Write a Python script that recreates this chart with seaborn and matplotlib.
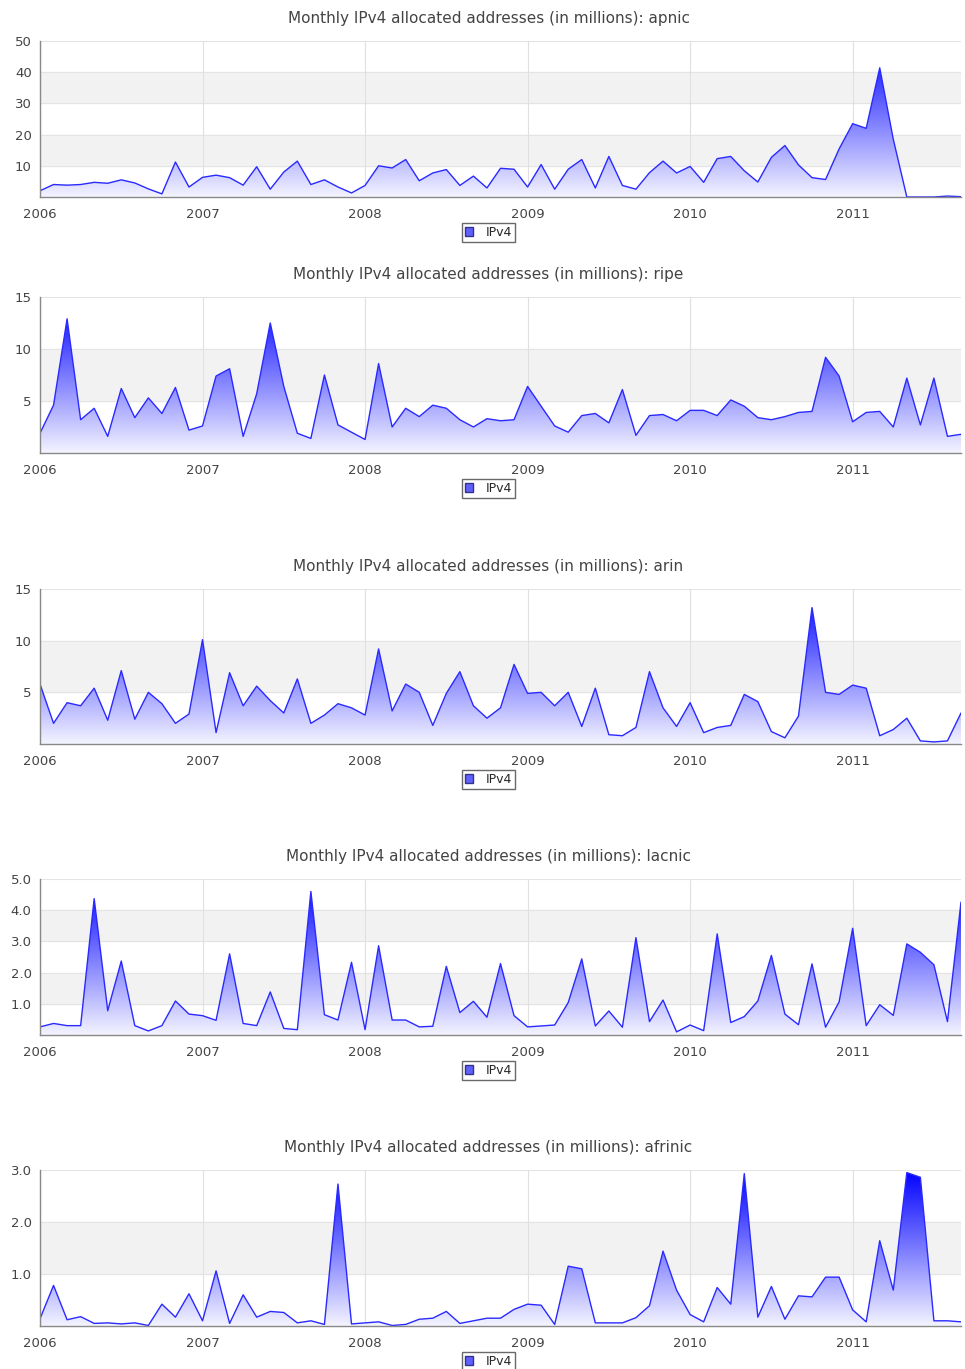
import numpy as np
import pandas as pd
import matplotlib
matplotlib.use("Agg")
import matplotlib.pyplot as plt
from matplotlib.patches import Patch
from matplotlib.colors import LinearSegmentedColormap
import seaborn as sns

years = ["2006", "2007", "2008", "2009", "2010", "2011"]

apnic = [2, 4, 3.8, 4, 4.7, 4.4, 5.5, 4.5, 2.6, 1, 11.2, 3.2, 6.3, 7, 6.2, 3.8, 9.7, 2.5, 8, 11.5,
         4, 5.5, 3.2, 1.3, 3.7, 10, 9.3, 12, 5.2, 7.7, 8.8, 3.7, 6.7, 2.9, 9.2, 8.9, 3.2, 10.4, 2.5, 8.9,
         12, 2.9, 13, 3.7, 2.5, 7.8, 11.5, 7.7, 9.8, 4.7, 12.3, 13, 8.4, 4.8, 12.7, 16.5, 10.3, 6.2, 5.6, 15.4,
         23.5, 22, 41.4, 18.5, 0, 0, 0, 0.3, 0.1]
ripe = [1.9, 4.6, 12.9, 3.2, 4.3, 1.6, 6.2, 3.4, 5.3, 3.8, 6.3, 2.2, 2.6, 7.4, 8.1, 1.6, 5.7, 12.5, 6.4, 1.9,
        1.4, 7.5, 2.7, 2, 1.3, 8.6, 2.5, 4.3, 3.5, 4.6, 4.3, 3.2, 2.5, 3.3, 3.1, 3.2, 6.4, 4.5, 2.6, 2,
        3.6, 3.8, 2.9, 6.1, 1.7, 3.6, 3.7, 3.1, 4.1, 4.1, 3.6, 5.1, 4.5, 3.4, 3.2, 3.5, 3.9, 4, 9.2, 7.4,
        3, 3.9, 4, 2.5, 7.2, 2.7, 7.2, 1.6, 1.8]
arin = [5.8, 2, 4, 3.7, 5.4, 2.3, 7.1, 2.4, 5, 3.9, 2, 2.9, 10.1, 1.1, 6.9, 3.7, 5.6, 4.2, 3, 6.3,
        2, 2.8, 3.9, 3.5, 2.8, 9.2, 3.2, 5.8, 5, 1.8, 4.9, 7, 3.7, 2.5, 3.5, 7.7, 4.9, 5, 3.7, 5,
        1.7, 5.4, 0.9, 0.8, 1.6, 7, 3.5, 1.7, 4, 1.1, 1.6, 1.8, 4.8, 4.1, 1.2, 0.6, 2.7, 13.2, 5, 4.8,
        5.7, 5.4, 0.8, 1.4, 2.5, 0.3, 0.2, 0.3, 3]
lacnic = [0.26, 0.37, 0.3, 0.3, 4.37, 0.78, 2.37, 0.3, 0.13, 0.3, 1.09, 0.67, 0.62, 0.47, 2.6, 0.37, 0.3, 1.38, 0.21, 0.17,
          4.6, 0.65, 0.48, 2.33, 0.17, 2.86, 0.48, 0.48, 0.26, 0.28, 2.2, 0.72, 1.08, 0.57, 2.29, 0.62, 0.26, 0.29, 0.32, 1.04,
          2.44, 0.29, 0.77, 0.25, 3.12, 0.43, 1.12, 0.1, 0.32, 0.14, 3.24, 0.4, 0.59, 1.09, 2.55, 0.67, 0.33, 2.28, 0.25, 1.06,
          3.42, 0.3, 0.97, 0.63, 2.92, 2.65, 2.25, 0.43, 4.26]
afrinic = [0.14, 0.78, 0.12, 0.18, 0.05, 0.06, 0.04, 0.06, 0.01, 0.42, 0.17, 0.62, 0.1, 1.06, 0.05, 0.6, 0.17, 0.28, 0.26, 0.06,
           0.1, 0.03, 2.73, 0.04, 0.06, 0.08, 0.01, 0.03, 0.13, 0.15, 0.28, 0.05, 0.1, 0.15, 0.15, 0.32, 0.42, 0.4, 0.03, 1.15,
           1.1, 0.06, 0.06, 0.06, 0.16, 0.39, 1.44, 0.69, 0.22, 0.08, 0.74, 0.42, 2.93, 0.17, 0.76, 0.13, 0.58, 0.56, 0.94, 0.94,
           0.31, 0.08, 1.64, 0.69, 2.95, 2.86, 0.1, 0.1, 0.08]

panels = [
    ("apnic", apnic, 50, 10, [10, 20, 30, 40, 50], "{:.0f}"),
    ("ripe", ripe, 15, 5, [5, 10, 15], "{:.0f}"),
    ("arin", arin, 15, 5, [5, 10, 15], "{:.0f}"),
    ("lacnic", lacnic, 5, 1, [1, 2, 3, 4, 5], "{:.1f}"),
    ("afrinic", afrinic, 3, 1, [1, 2, 3], "{:.1f}"),
]
# axes top/bottom in pixels
ax_pix = [(41, 197), (297, 453), (589, 744), (879, 1035), (1170, 1326)]

W, H = 965, 1369
fig = plt.figure(figsize=(W / 100, H / 100), dpi=100)
sns.set_style("white")
plt.rcParams["font.family"] = ["DejaVu Sans"]
cmap = LinearSegmentedColormap.from_list("blu", ["#f4f4ff", "#0000ff"])
grad = np.linspace(0, 1, 256).reshape(-1, 1)

for (name, vals, ymax, step, ticks, fmt), (top, bot) in zip(panels, ax_pix):
    ax = fig.add_axes([40 / W, 1 - bot / H, 921 / W, (bot - top) / H])
    df = pd.DataFrame({"month": np.arange(len(vals)), "value": vals})
    n = len(vals) - 1
    ax.set_xlim(0, n)
    ax.set_ylim(0, ymax)
    # alternating bands
    for k, lo in enumerate(np.arange(0, ymax, step)):
        if k % 2 == 1:
            ax.axhspan(lo, lo + step, color="#f2f2f2", zorder=0)
        ax.axhline(lo + step, color="#e4e4e4", lw=0.8, zorder=0.5)
    for i in range(len(years)):
        ax.axvline(i * 12, color="#e0e0e0", lw=0.8, zorder=0.5)
    poly = ax.fill_between(df["month"], 0, df["value"], color="none", zorder=1)
    im = ax.imshow(grad, cmap=cmap, aspect="auto", origin="lower",
                   extent=[0, n, 0, ymax], zorder=1)
    im.set_clip_path(poly.get_paths()[0], transform=ax.transData)
    sns.lineplot(data=df, x="month", y="value", ax=ax, color="#2a2aff", lw=1.0, zorder=2)
    ax.set_xlabel("")
    ax.set_ylabel("")
    ax.set_xticks([i * 12 for i in range(len(years))])
    ax.set_xticklabels(years, color="#444444", fontsize=9.5)
    ax.set_yticks(ticks)
    ax.set_yticklabels([fmt.format(t) for t in ticks], color="#444444", fontsize=9.5)
    ax.set_yticks(np.arange(step / 2, ymax, step / 2), minor=True)
    ax.tick_params(axis="y", which="major", length=4, color="#888888", pad=2)
    ax.tick_params(axis="y", which="minor", length=2, color="#888888")
    ax.tick_params(axis="x", length=0, pad=8)
    for s in ["top", "right"]:
        ax.spines[s].set_visible(False)
    for s in ["left", "bottom"]:
        ax.spines[s].set_color("#888888")
        ax.spines[s].set_linewidth(1.0)
    ax.set_title(f"Monthly IPv4 allocated addresses (in millions): {name}",
                 fontsize=11, color="#444444", pad=13, x=0.487)
    leg = ax.legend(handles=[Patch(facecolor="#6060ff", edgecolor="#333388")], labels=["IPv4"],
                    loc="upper center", bbox_to_anchor=(0.487, -0.125), fontsize=9,
                    frameon=True, fancybox=False, handlelength=0.7, handleheight=0.7,
                    borderpad=0.25, handletextpad=1.0)
    leg.get_frame().set_edgecolor("#444444")
    leg.get_frame().set_linewidth(1.0)

fig.savefig("out.png", dpi=100)
